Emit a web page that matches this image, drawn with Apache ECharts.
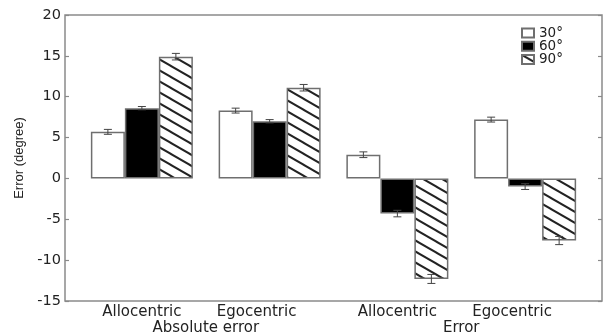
<!DOCTYPE html>
<html>
<head>
<meta charset="utf-8">
<script src="https://cdn.jsdelivr.net/npm/echarts@6/dist/echarts.min.js"></script>
<style>
  html, body { margin: 0; padding: 0; background: #fff; }
  #chart { width: 608px; height: 336px; }
</style>
</head>
<body>
<div id="chart"></div>
<script>
// Conditions on the x axis and the two measures they belong to
const categories = ['Allocentric', 'Egocentric', 'Allocentric', 'Egocentric'];
const groups = ['Absolute error', 'Error'];
const angles = ['30°', '60°', '90°'];

// Mean error (degrees) per angle
const mean30 = [5.7, 8.3, 2.9, 7.2];
const mean60 = [8.6, 7.0, -4.3, -1.0];
const mean90 = [14.9, 11.1, -12.3, -7.6];

// Standard error per angle
const err30 = [0.3, 0.3, 0.35, 0.3];
const err60 = [0.2, 0.2, 0.4, 0.35];
const err90 = [0.4, 0.4, 0.55, 0.5];

const yMin = -15, yMax = 20, yStep = 5;

const BAR_W = 34;
const FRAME = '#8a8a8a';
const TEXT = '#222';
const HFONT = 'DejaVu Sans';

// Diagonal hatch tile for the 90° bars
function hatchPattern() {
  const W = 19, H = 11;
  const c = document.createElement('canvas');
  c.width = W; c.height = H;
  const g = c.getContext('2d');
  g.fillStyle = '#fff';
  g.fillRect(0, 0, W, H);
  g.strokeStyle = '#222';
  g.lineWidth = 2;
  for (let k = -1; k <= 1; k++) {
    g.beginPath();
    g.moveTo(-2, k * H - 2 * H / W);
    g.lineTo(W + 2, H + k * H + 2 * H / W);
    g.stroke();
  }
  return { image: c, repeat: 'repeat' };
}

const means = [mean30, mean60, mean90];
const errs = [err30, err60, err90];
const fills = ['#ffffff', '#000000', hatchPattern()];

const errData = [];
means.forEach((m, si) => {
  m.forEach((v, ci) => errData.push([ci, si, v, errs[si][ci]]));
});

const chart = echarts.init(document.getElementById('chart'), null, { renderer: 'canvas' });

const barSeries = angles.map((name, si) => ({
  name: name,
  type: 'bar',
  xAxisIndex: 1,
  yAxisIndex: 2,
  data: means[si],
  barWidth: BAR_W,
  barGap: '0%',
  itemStyle: { color: fills[si], borderColor: '#6f6f6f', borderWidth: 1.5 },
  emphasis: { disabled: true },
  z: 2
}));

const option = {
  animation: false,
  backgroundColor: '#fff',
  grid: [
    { left: 65, right: 6, top: 15, bottom: 35, show: true, borderColor: FRAME, borderWidth: 1.5, backgroundColor: 'transparent' },
    { left: 78, right: 19, top: 15, bottom: 35 }
  ],
  legend: {
    data: angles,
    orient: 'vertical',
    left: 521,
    top: 26,
    padding: 0,
    icon: 'rect',
    itemWidth: 12,
    itemHeight: 9,
    itemGap: -0.8,
    textStyle: { fontFamily: HFONT, fontSize: 13.5, color: TEXT },
    selectedMode: false
  },
  xAxis: [
    { gridIndex: 0, type: 'value', min: 0, max: 1, show: false },
    {
      gridIndex: 1, type: 'category', data: categories, position: 'bottom',
      axisLine: { show: false }, axisTick: { show: false },
      axisLabel: {
        interval: 0, hideOverlap: false,
        margin: 4, fontFamily: HFONT, fontSize: 15, color: TEXT,
        formatter: (v) => v === 'Egocentric' ? '{e|' + v + '}' : v,
        rich: { e: { fontFamily: HFONT, fontSize: 15, color: TEXT, padding: [0, 26, 0, 0] } }
      }
    },
    {
      gridIndex: 1, type: 'category', data: groups, position: 'bottom', offset: 16,
      axisLine: { show: false }, axisTick: { show: false },
      axisLabel: { interval: 0, margin: 4, fontFamily: HFONT, fontSize: 15, color: TEXT }
    }
  ],
  yAxis: [
    {
      gridIndex: 0, type: 'value', min: yMin, max: yMax, interval: yStep, position: 'left',
      axisLine: { show: false },
      axisTick: { show: true, inside: true, length: 4, lineStyle: { color: FRAME, width: 1.2 } },
      axisLabel: { fontFamily: HFONT, fontSize: 14.5, color: TEXT, margin: 4 },
      splitLine: { show: false },
      name: 'Error (degree)', nameLocation: 'middle', nameGap: 36, nameRotate: 90,
      nameTextStyle: { fontFamily: 'Liberation Sans', fontSize: 13, color: TEXT }
    },
    {
      gridIndex: 0, type: 'value', min: yMin, max: yMax, interval: yStep, position: 'right',
      axisLine: { show: false },
      axisTick: { show: true, inside: true, length: 4, lineStyle: { color: FRAME, width: 1.2 } },
      axisLabel: { show: false },
      splitLine: { show: false }
    },
    { gridIndex: 1, type: 'value', min: yMin, max: yMax, interval: yStep, show: false }
  ],
  series: barSeries.concat([
    {
      type: 'custom',
      xAxisIndex: 1,
      yAxisIndex: 2,
      data: errData,
      z: 5,
      silent: true,
      renderItem: function (params, api) {
        const ci = api.value(0), si = api.value(1), m = api.value(2), e = api.value(3);
        const hi = api.coord([ci, m + e]);
        const lo = api.coord([ci, m - e]);
        const x = hi[0] + (si - 1) * BAR_W;
        const cap = 4;
        const style = { stroke: '#444', lineWidth: 1 };
        return {
          type: 'group',
          children: [
            { type: 'line', shape: { x1: x, y1: hi[1], x2: x, y2: lo[1] }, style: style },
            { type: 'line', shape: { x1: x - cap, y1: hi[1], x2: x + cap, y2: hi[1] }, style: style },
            { type: 'line', shape: { x1: x - cap, y1: lo[1], x2: x + cap, y2: lo[1] }, style: style }
          ]
        };
      }
    }
  ])
};

chart.setOption(option);
</script>
</body>
</html>
